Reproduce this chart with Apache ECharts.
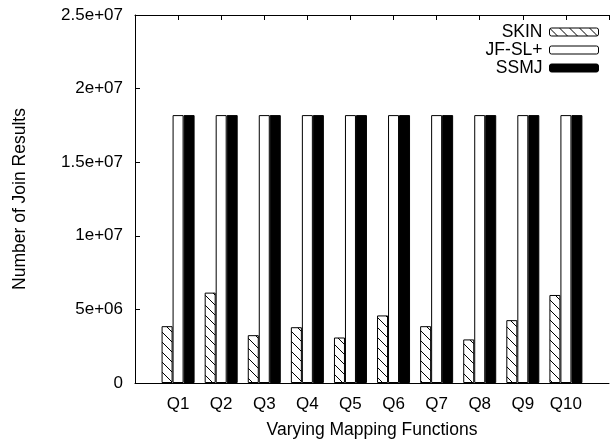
<!DOCTYPE html>
<html>
<head>
<meta charset="utf-8">
<script src="https://cdn.jsdelivr.net/npm/echarts@6/dist/echarts.min.js"></script>
<style>
  html, body { margin: 0; padding: 0; background: #fff; }
  #chart { width: 612px; height: 444px; }
</style>
</head>
<body>
<div id="chart"></div>
<script>
// Query labels; blank slots pad the axis on both sides
const categories = ['', 'Q1', 'Q2', 'Q3', 'Q4', 'Q5', 'Q6', 'Q7', 'Q8', 'Q9', 'Q10', ''];
const skin   = [null, 3.86e6, 6.14e6, 3.25e6, 3.79e6, 3.09e6, 4.59e6, 3.86e6, 2.96e6, 4.27e6, 5.98e6, null];
const jfsl   = [null, 1.82e7, 1.82e7, 1.82e7, 1.82e7, 1.82e7, 1.82e7, 1.82e7, 1.82e7, 1.82e7, 1.82e7, null];
const ssmj   = [null, 1.82e7, 1.82e7, 1.82e7, 1.82e7, 1.82e7, 1.82e7, 1.82e7, 1.82e7, 1.82e7, 1.82e7, null];
const yTicks = [0, 5e6, 1e7, 1.5e7, 2e7, 2.5e7];
const yTickLabels = ['0', '5e+06', '1e+07', '1.5e+07', '2e+07', '2.5e+07'];

const FONT = 'Liberation Sans, Arial, Helvetica, sans-serif';
const FS_TICK = 17;
const FS_TITLE = 17.5;

// Diagonal hatch tile (lines running top-left to bottom-right)
function hatchTile() {
  const s = 10;
  const c = document.createElement('canvas');
  c.width = s; c.height = s;
  const g = c.getContext('2d');
  g.fillStyle = '#fff';
  g.fillRect(0, 0, s, s);
  g.strokeStyle = '#000';
  g.lineWidth = 1;
  g.beginPath();
  g.moveTo(-1, -1); g.lineTo(s + 1, s + 1);
  g.moveTo(-1, s - 1); g.lineTo(1, s + 1);
  g.moveTo(s - 1, -1); g.lineTo(s + 1, 1);
  g.stroke();
  return c;
}
const hatch = { image: hatchTile(), repeat: 'repeat' };

const chart = echarts.init(document.getElementById('chart'), null, { renderer: 'canvas' });

const barCommon = {
  type: 'bar',
  barWidth: 11,
  barGap: '0%',
  animation: false,
  xAxisIndex: 0,
  yAxisIndex: 0
};

chart.setOption({
  animation: false,
  backgroundColor: '#fff',
  textStyle: { fontFamily: FONT },
  grid: { left: 135, top: 15, width: 484, height: 369, containLabel: false },
  legend: {
    orient: 'vertical',
    right: 13,
    top: 23,
    padding: 0,
    align: 'right',
    itemWidth: 49,
    itemHeight: 8,
    itemGap: 0,
    textStyle: { fontSize: FS_TITLE, color: '#000', fontFamily: FONT, lineHeight: 16, padding: [0, 2, 0, 0] },
    data: [
      { name: 'SKIN', itemStyle: { color: hatch, borderColor: '#000', borderWidth: 1 } },
      { name: 'JF-SL+', itemStyle: { color: '#fff', borderColor: '#000', borderWidth: 1 } },
      { name: 'SSMJ', itemStyle: { color: '#000', borderColor: '#000', borderWidth: 1 } }
    ]
  },
  xAxis: [
    {
      type: 'category',
      data: categories,
      boundaryGap: false,
      position: 'bottom',
      name: 'Varying Mapping Functions',
      nameLocation: 'middle',
      nameGap: 38,
      nameTextStyle: { fontSize: FS_TITLE, color: '#000', fontFamily: FONT },
      axisLine: { lineStyle: { color: '#000', width: 1 } },
      axisTick: { show: false },
      axisLabel: { fontSize: FS_TICK, color: '#000', fontFamily: FONT, margin: 13, interval: 0 },
      splitLine: { show: false }
    },
    {
      type: 'category',
      data: categories,
      boundaryGap: false,
      position: 'top',
      axisLine: { lineStyle: { color: '#000', width: 1 } },
      axisTick: { show: true, inside: true, length: 5, interval: 0, lineStyle: { color: '#000' } },
      axisLabel: { show: false },
      splitLine: { show: false }
    }
  ],
  yAxis: [
    {
      type: 'value',
      min: 0,
      max: 2.5e7,
      interval: 5e6,
      position: 'left',
      name: 'Number of Join Results',
      nameLocation: 'middle',
      nameGap: 106,
      nameRotate: 90,
      nameTextStyle: { fontSize: FS_TITLE, color: '#000', fontFamily: FONT },
      axisLine: { show: true, lineStyle: { color: '#000', width: 1 } },
      axisTick: { show: true, inside: true, length: 5, lineStyle: { color: '#000' } },
      axisLabel: {
        fontSize: FS_TICK, color: '#000', fontFamily: FONT, margin: 12,
        formatter: v => yTickLabels[yTicks.indexOf(v)] ?? ''
      },
      splitLine: { show: false }
    }
  ],
  series: [
    Object.assign({}, barCommon, {
      name: 'SKIN', data: skin,
      itemStyle: { color: hatch, borderColor: '#000', borderWidth: 1 }
    }),
    Object.assign({}, barCommon, {
      name: 'JF-SL+', data: jfsl,
      itemStyle: { color: '#fff', borderColor: '#000', borderWidth: 1 }
    }),
    Object.assign({}, barCommon, {
      name: 'SSMJ', data: ssmj,
      itemStyle: { color: '#000', borderColor: '#000', borderWidth: 1 }
    })
  ]
});
</script>
</body>
</html>
